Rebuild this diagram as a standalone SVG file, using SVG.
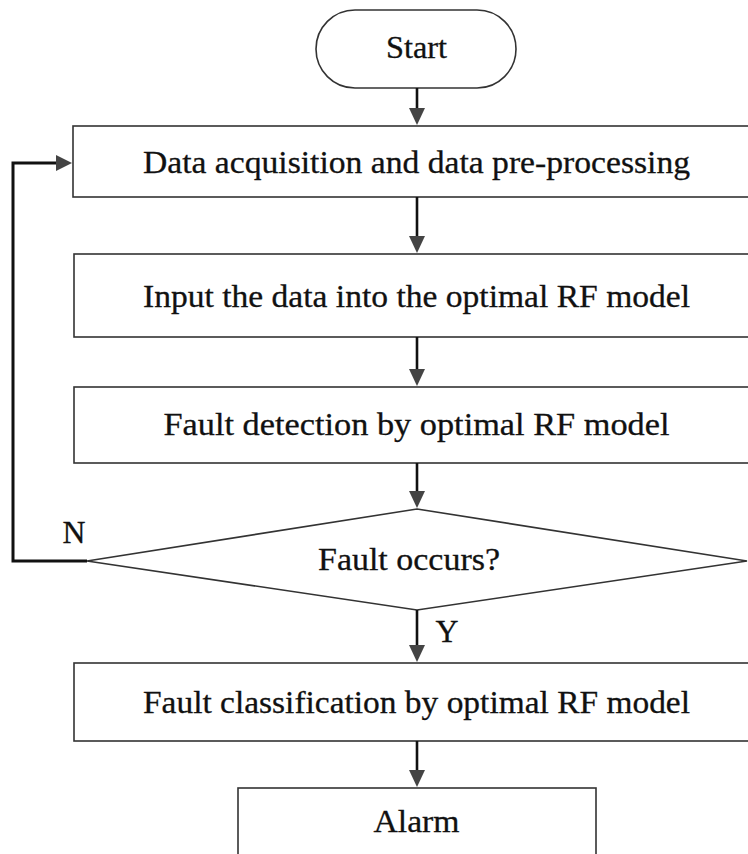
<svg xmlns="http://www.w3.org/2000/svg" width="748" height="854" viewBox="0 0 748 854">
<style>
.box{fill:#fff;stroke:#333;stroke-width:1.6}
.t{font-family:"Liberation Serif","Times New Roman",serif;font-size:32px;fill:#111;stroke:#111;stroke-width:0.3;text-anchor:middle}
.c{fill:none;stroke:#111;stroke-width:2.6}
.fb{fill:none;stroke:#111;stroke-width:3}
.ah{fill:#444;stroke:none}
</style>
<rect width="748" height="854" fill="#fff"/>
<g id="start">
<rect class="box" x="316" y="10" width="200" height="78" rx="39" ry="39"/>
<text class="t" x="416.5" y="58" textLength="61" lengthAdjust="spacingAndGlyphs">Start</text>
</g>
<g id="acquire">
<rect class="box" x="73" y="126" width="700" height="71"/>
<text class="t" x="416.5" y="173" textLength="547" lengthAdjust="spacingAndGlyphs">Data acquisition and data pre-processing</text>
</g>
<g id="input">
<rect class="box" x="74" y="254" width="700" height="83"/>
<text class="t" x="416.5" y="307" textLength="547" lengthAdjust="spacingAndGlyphs">Input the data into the optimal RF model</text>
</g>
<g id="detect">
<rect class="box" x="74" y="387" width="700" height="76"/>
<text class="t" x="416.5" y="435" textLength="506" lengthAdjust="spacingAndGlyphs">Fault detection by optimal RF model</text>
</g>
<g id="decision">
<polygon class="box" points="417,509 747,561 417,610 87,561"/>
<text class="t" x="409" y="570" textLength="182" lengthAdjust="spacingAndGlyphs">Fault occurs?</text>
</g>
<g id="classify">
<rect class="box" x="74" y="663" width="700" height="78"/>
<text class="t" x="416.5" y="713" textLength="547" lengthAdjust="spacingAndGlyphs">Fault classification by optimal RF model</text>
</g>
<g id="alarm">
<rect class="box" x="238" y="788" width="358" height="90"/>
<text class="t" x="416.5" y="832" textLength="86" lengthAdjust="spacingAndGlyphs">Alarm</text>
</g>
<g id="connectors">
<line class="c" x1="417" y1="88" x2="417" y2="110"/>
<polygon class="ah" points="409,108 425,108 417,125"/>
<line class="c" x1="417" y1="197" x2="417" y2="238"/>
<polygon class="ah" points="409,236 425,236 417,253"/>
<line class="c" x1="417" y1="337" x2="417" y2="371"/>
<polygon class="ah" points="409,369 425,369 417,386"/>
<line class="c" x1="417" y1="463" x2="417" y2="493"/>
<polygon class="ah" points="409,491 425,491 417,508"/>
<line class="c" x1="417" y1="610" x2="417" y2="647"/>
<polygon class="ah" points="409,645 425,645 417,662"/>
<line class="c" x1="417" y1="741" x2="417" y2="772"/>
<polygon class="ah" points="409,770 425,770 417,787"/>
<polyline class="fb" points="87,561 13,561 13,163 58,163"/>
<polygon class="ah" points="56,155 56,171 72,163"/>
<text class="t" x="74" y="543" textLength="23" lengthAdjust="spacingAndGlyphs">N</text>
<text class="t" x="447" y="642" textLength="23" lengthAdjust="spacingAndGlyphs">Y</text>
</g>
</svg>
